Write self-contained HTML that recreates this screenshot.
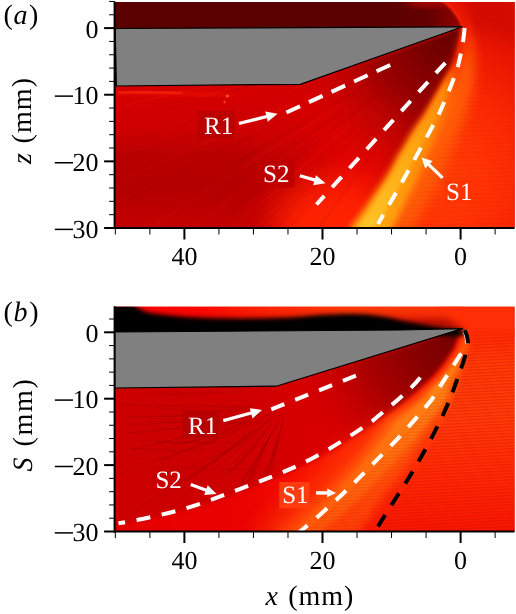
<!DOCTYPE html>
<html><head><meta charset="utf-8">
<style>
html,body{margin:0;padding:0;background:#fff;}
body{width:516px;height:614px;overflow:hidden;}
svg{display:block;will-change:transform;}
text{font-family:"Liberation Serif",serif;font-size:26px;fill:#000;text-rendering:geometricPrecision;}
.w{fill:#fff;}
.i{font-style:italic;}
.L text{font-size:28px;}
.lb{font-size:25px;}
</style></head><body>
<svg width="516" height="614" viewBox="0 0 516 614">
<defs>
<clipPath id="cpA"><rect x="114.6" y="2" width="399.9" height="226"/></clipPath>
<clipPath id="cpB"><rect x="114.6" y="306.8" width="399.9" height="224.7"/></clipPath>
<filter id="b07" color-interpolation-filters="sRGB" filterUnits="userSpaceOnUse" x="100" y="0" width="420" height="614"><feGaussianBlur stdDeviation="0.7"/></filter>
<filter id="b1" color-interpolation-filters="sRGB" x="-20%" y="-20%" width="140%" height="140%"><feGaussianBlur stdDeviation="1"/></filter>
<filter id="b2" color-interpolation-filters="sRGB" x="-20%" y="-20%" width="140%" height="140%"><feGaussianBlur stdDeviation="2"/></filter>
<filter id="b25" color-interpolation-filters="sRGB" x="-20%" y="-40%" width="140%" height="180%"><feGaussianBlur stdDeviation="2.5"/></filter>
<filter id="b3" color-interpolation-filters="sRGB" x="-20%" y="-20%" width="140%" height="140%"><feGaussianBlur stdDeviation="3"/></filter>
<filter id="b4" color-interpolation-filters="sRGB" x="-20%" y="-20%" width="140%" height="140%"><feGaussianBlur stdDeviation="4"/></filter>
<filter id="b6" color-interpolation-filters="sRGB" x="-30%" y="-30%" width="160%" height="160%"><feGaussianBlur stdDeviation="6"/></filter>
<filter id="b10" color-interpolation-filters="sRGB" x="-40%" y="-40%" width="180%" height="180%"><feGaussianBlur stdDeviation="10"/></filter>
<filter id="b16" color-interpolation-filters="sRGB" x="-50%" y="-50%" width="200%" height="200%"><feGaussianBlur stdDeviation="16"/></filter>
</defs>
<rect width="516" height="614" fill="#fff"/>

<!-- ================= PANEL A ================= -->
<g clip-path="url(#cpA)">
<defs>
<linearGradient id="aBase" x1="0" y1="86" x2="0" y2="228" gradientUnits="userSpaceOnUse"><stop offset="0" stop-color="#d60000"/><stop offset="0.3" stop-color="#ce0000"/><stop offset="0.5" stop-color="#b80000"/><stop offset="0.72" stop-color="#b40000"/><stop offset="1" stop-color="#c40000"/></linearGradient>
<linearGradient id="aBaseH" x1="240" y1="0" x2="415" y2="0" gradientUnits="userSpaceOnUse"><stop offset="0" stop-color="#d00000" stop-opacity="0"/><stop offset="0.3" stop-color="#d40000" stop-opacity="0.6"/><stop offset="0.6" stop-color="#e20400" stop-opacity="1"/><stop offset="1" stop-color="#f01000" stop-opacity="1"/></linearGradient>
<radialGradient id="aRight" cx="432" cy="175" r="165" gradientUnits="userSpaceOnUse"><stop offset="0" stop-color="#ff4006"/><stop offset="0.3" stop-color="#ff3404"/><stop offset="0.55" stop-color="#fa2802"/><stop offset="0.8" stop-color="#ec1800"/><stop offset="1" stop-color="#e01000"/></radialGradient>
<radialGradient id="aFan" cx="462" cy="27" r="180" gradientUnits="userSpaceOnUse"><stop offset="0" stop-color="#600000" stop-opacity="1"/><stop offset="0.25" stop-color="#780000" stop-opacity="1"/><stop offset="0.5" stop-color="#940000" stop-opacity="0.95"/><stop offset="0.75" stop-color="#b00000" stop-opacity="0.55"/><stop offset="1" stop-color="#c40000" stop-opacity="0"/></radialGradient>
<linearGradient id="aBand" x1="0" y1="40" x2="0" y2="228" gradientUnits="userSpaceOnUse"><stop offset="0" stop-color="#ff3000" stop-opacity="0"/><stop offset="0.12" stop-color="#ff4000" stop-opacity="0.5"/><stop offset="0.25" stop-color="#ff6404" stop-opacity="1"/><stop offset="0.5" stop-color="#ff8806"/><stop offset="1" stop-color="#ffa410"/></linearGradient>
<linearGradient id="aCore" x1="0" y1="55" x2="0" y2="228" gradientUnits="userSpaceOnUse"><stop offset="0" stop-color="#ff7800" stop-opacity="0"/><stop offset="0.2" stop-color="#ff8c08" stop-opacity="0.9"/><stop offset="0.5" stop-color="#ffa410" stop-opacity="1"/><stop offset="1" stop-color="#ffc428"/></linearGradient>
<linearGradient id="aDark" x1="0" y1="30" x2="0" y2="228" gradientUnits="userSpaceOnUse"><stop offset="0" stop-color="#800000" stop-opacity="0.85"/><stop offset="0.4" stop-color="#980000" stop-opacity="0.6"/><stop offset="0.65" stop-color="#b00000" stop-opacity="0.2"/><stop offset="1" stop-color="#c00000" stop-opacity="0"/></linearGradient>
<linearGradient id="aTopG" x1="380" y1="0" x2="460" y2="0" gradientUnits="userSpaceOnUse"><stop offset="0" stop-color="#5a0000"/><stop offset="0.6" stop-color="#640000"/><stop offset="1" stop-color="#900000"/></linearGradient>
</defs>
<rect x="110" y="-4" width="410" height="244" fill="url(#aBase)"/>
<rect x="110" y="-4" width="410" height="244" fill="url(#aBaseH)"/>
<ellipse cx="335" cy="228" rx="62" ry="50" fill="#ff2400" opacity="0.95" filter="url(#b16)"/>
<path d="M430,-4 C448,2 458,14 462.5,27 C461,54 446,98 439.5,113 C431,130 410,167 370,236 L520,236 L520,-4 Z" fill="url(#aRight)" filter="url(#b2)"/>
<path d="M450,-6 L522,-6 L522,40 L470,30 Z" fill="#cc0a00" opacity="0.75" filter="url(#b10)"/>
<path d="M462.5,27 L300,84.5 L115,86 L115,120 L260,120 L330,236 L350,236 C380,190 410,140 424.8,113.3 C433,100 442,84 449.8,68.5 C456,53 459,40 462.5,27 Z" fill="url(#aFan)" filter="url(#b2)"/>
<path d="M463.2,30.0 L459.3,36.0 L455.4,42.0 L451.0,48.0 L447.6,54.0 L444.4,60.0 L441.3,66.0 L437.3,72.0 L433.4,78.0 L429.7,84.0 L426.8,90.0 L423.4,96.0 L420.0,102.0 L416.8,108.0 L413.4,114.0 L409.4,120.0 L405.3,126.0 L401.6,132.0 L398.2,138.0 L395.1,144.0 L391.5,150.0 L387.9,156.0 L384.9,162.0 L382.0,168.0 L379.1,174.0 L376.1,180.0 L372.7,186.0 L369.3,192.0 L366.0,198.0 L362.7,204.0 L359.6,210.0 L356.1,216.0 L352.5,222.0 L349.2,228.0 L346.0,234.0 L357.0,234.0 L360.3,228.0 L363.7,222.0 L367.4,216.0 L371.0,210.0 L374.2,204.0 L377.5,198.0 L380.9,192.0 L384.4,186.0 L387.9,180.0 L391.0,174.0 L394.0,168.0 L396.9,162.0 L399.9,156.0 L403.5,150.0 L407.1,144.0 L410.2,138.0 L413.6,132.0 L417.3,126.0 L421.3,120.0 L425.1,114.0 L428.3,108.0 L431.4,102.0 L434.7,96.0 L438.0,90.0 L440.7,84.0 L443.7,78.0 L446.9,72.0 L450.2,66.0 L452.6,60.0 L455.1,54.0 L457.4,48.0 L459.8,42.0 L461.8,36.0 L463.8,30.0 Z" fill="url(#aDark)" filter="url(#b4)"/>
<path d="M464.3,30.0 L463.6,36.0 L463.0,42.0 L461.9,48.0 L460.8,54.0 L459.4,60.0 L458.0,66.0 L455.8,72.0 L453.7,78.0 L451.7,84.0 L449.5,90.0 L446.8,96.0 L444.2,102.0 L441.6,108.0 L439.0,114.0 L435.7,120.0 L432.3,126.0 L428.8,132.0 L425.5,138.0 L422.5,144.0 L419.1,150.0 L415.6,156.0 L412.8,162.0 L410.0,168.0 L406.9,174.0 L403.7,180.0 L400.1,186.0 L396.6,192.0 L393.1,198.0 L389.7,204.0 L386.3,210.0 L382.7,216.0 L378.9,222.0 L375.5,228.0 L372.1,234.0 L409.9,234.0 L413.0,228.0 L416.1,222.0 L419.5,216.0 L422.8,210.0 L425.8,204.0 L428.9,198.0 L432.0,192.0 L435.2,186.0 L438.5,180.0 L441.3,174.0 L444.0,168.0 L446.3,162.0 L448.5,156.0 L451.4,150.0 L454.3,144.0 L456.7,138.0 L459.4,132.0 L462.3,126.0 L464.5,120.0 L466.7,114.0 L468.2,108.0 L469.6,102.0 L471.1,96.0 L472.7,90.0 L473.7,84.0 L473.9,78.0 L474.3,72.0 L474.7,66.0 L474.3,60.0 L473.9,54.0 L473.2,48.0 L472.1,42.0 L470.6,36.0 L469.0,30.0 Z" fill="#ff6008" opacity="0.9" filter="url(#b6)"/>
<path d="M464.0,30.0 L462.6,36.0 L461.1,42.0 L459.2,48.0 L456.9,54.0 L454.3,60.0 L451.7,66.0 L448.3,72.0 L444.9,78.0 L441.7,84.0 L438.5,90.0 L434.8,96.0 L431.2,102.0 L427.6,108.0 L424.0,114.0 L419.7,120.0 L415.3,126.0 L411.5,132.0 L407.9,138.0 L404.6,144.0 L400.9,150.0 L397.1,156.0 L394.0,162.0 L390.9,168.0 L387.2,174.0 L383.5,180.0 L379.4,186.0 L375.3,192.0 L371.3,198.0 L367.2,204.0 L363.2,210.0 L358.9,216.0 L354.5,222.0 L350.3,228.0 L346.3,234.0 L388.9,234.0 L391.9,228.0 L394.9,222.0 L398.2,216.0 L401.4,210.0 L404.3,204.0 L407.3,198.0 L410.4,192.0 L413.5,186.0 L416.6,180.0 L419.4,174.0 L422.1,168.0 L424.4,162.0 L426.8,156.0 L429.8,150.0 L432.8,144.0 L435.4,138.0 L438.2,132.0 L441.3,126.0 L444.1,120.0 L446.8,114.0 L448.9,108.0 L450.9,102.0 L453.0,96.0 L455.1,90.0 L456.7,84.0 L458.1,78.0 L459.8,72.0 L461.4,66.0 L462.3,60.0 L463.1,54.0 L463.7,48.0 L464.3,42.0 L464.4,36.0 L464.5,30.0 Z" fill="url(#aBand)" filter="url(#b3)"/>
<path d="M464.1,30.0 L462.9,36.0 L461.7,42.0 L460.0,48.0 L458.3,54.0 L456.4,60.0 L453.5,66.0 L449.8,72.0 L446.2,78.0 L442.7,84.0 L440.0,90.0 L436.7,96.0 L433.4,102.0 L430.3,108.0 L427.1,114.0 L423.3,120.0 L419.3,126.0 L415.5,132.0 L411.9,138.0 L408.6,144.0 L404.9,150.0 L401.1,156.0 L398.0,162.0 L394.9,168.0 L391.6,174.0 L388.1,180.0 L384.3,186.0 L380.5,192.0 L376.7,198.0 L373.1,204.0 L369.5,210.0 L365.6,216.0 L361.5,222.0 L357.8,228.0 L354.2,234.0 L372.1,234.0 L375.5,228.0 L378.9,222.0 L382.7,216.0 L386.3,210.0 L389.7,204.0 L393.1,198.0 L396.6,192.0 L400.1,186.0 L403.7,180.0 L406.9,174.0 L410.0,168.0 L412.8,162.0 L415.6,156.0 L419.1,150.0 L422.5,144.0 L425.5,138.0 L428.8,132.0 L432.3,126.0 L435.5,120.0 L438.7,114.0 L441.2,108.0 L443.6,102.0 L446.1,96.0 L448.7,90.0 L450.7,84.0 L452.4,78.0 L454.3,72.0 L456.2,66.0 L457.4,60.0 L459.1,54.0 L460.7,48.0 L462.1,42.0 L463.1,36.0 L464.2,30.0 Z" fill="url(#aCore)" filter="url(#b2)"/>
<clipPath id="cpAL"><path d="M115,86 L300,84.5 L462.5,27 L316,236 L115,236 Z"/></clipPath>
<g clip-path="url(#cpAL)" fill="none"><g filter="url(#b07)">
<line x1="361.6" y1="61.4" x2="175.0" y2="124.9" stroke="#ff3018" stroke-opacity="0.09" stroke-width="1.2"/>
<line x1="317.1" y1="37.7" x2="230.6" y2="44.0" stroke="#ff3018" stroke-opacity="0.06" stroke-width="0.9"/>
<line x1="297.6" y1="101.6" x2="204.5" y2="143.8" stroke="#ff3018" stroke-opacity="0.10" stroke-width="1.7"/>
<line x1="350.1" y1="99.3" x2="135.0" y2="237.6" stroke="#ff3018" stroke-opacity="0.12" stroke-width="1.1"/>
<line x1="360.8" y1="43.0" x2="226.9" y2="64.0" stroke="#700000" stroke-opacity="0.04" stroke-width="1.4"/>
<line x1="356.7" y1="104.2" x2="212.5" y2="209.6" stroke="#ff3018" stroke-opacity="0.05" stroke-width="1.0"/>
<line x1="355.1" y1="112.2" x2="248.2" y2="197.0" stroke="#700000" stroke-opacity="0.06" stroke-width="1.1"/>
<line x1="343.9" y1="144.4" x2="255.7" y2="231.5" stroke="#700000" stroke-opacity="0.06" stroke-width="1.7"/>
<line x1="370.8" y1="107.0" x2="177.7" y2="275.7" stroke="#ff3018" stroke-opacity="0.08" stroke-width="1.6"/>
<line x1="320.6" y1="50.4" x2="234.7" y2="64.5" stroke="#700000" stroke-opacity="0.08" stroke-width="1.4"/>
<line x1="381.1" y1="121.2" x2="246.9" y2="276.4" stroke="#700000" stroke-opacity="0.06" stroke-width="1.3"/>
<line x1="330.7" y1="169.3" x2="218.4" y2="290.6" stroke="#700000" stroke-opacity="0.03" stroke-width="1.5"/>
<line x1="302.5" y1="145.8" x2="119.5" y2="281.7" stroke="#ff3018" stroke-opacity="0.08" stroke-width="1.5"/>
<line x1="321.8" y1="32.5" x2="211.7" y2="36.8" stroke="#ff3018" stroke-opacity="0.05" stroke-width="1.6"/>
<line x1="346.4" y1="43.5" x2="197.6" y2="64.8" stroke="#700000" stroke-opacity="0.03" stroke-width="1.2"/>
<line x1="302.4" y1="124.0" x2="107.9" y2="241.9" stroke="#700000" stroke-opacity="0.05" stroke-width="1.2"/>
<line x1="287.4" y1="93.3" x2="51.3" y2="182.6" stroke="#ff3018" stroke-opacity="0.06" stroke-width="1.0"/>
<line x1="323.3" y1="61.3" x2="142.7" y2="105.8" stroke="#ff3018" stroke-opacity="0.05" stroke-width="1.2"/>
<line x1="320.6" y1="82.3" x2="86.3" y2="173.8" stroke="#700000" stroke-opacity="0.06" stroke-width="1.4"/>
<line x1="387.1" y1="86.3" x2="197.0" y2="235.9" stroke="#700000" stroke-opacity="0.08" stroke-width="1.6"/>
<line x1="338.9" y1="78.4" x2="247.8" y2="116.3" stroke="#700000" stroke-opacity="0.03" stroke-width="0.9"/>
<line x1="357.2" y1="50.3" x2="219.3" y2="80.8" stroke="#ff3018" stroke-opacity="0.05" stroke-width="1.0"/>
<line x1="333.4" y1="41.9" x2="249.3" y2="51.6" stroke="#700000" stroke-opacity="0.07" stroke-width="0.9"/>
<line x1="338.6" y1="59.9" x2="197.9" y2="97.3" stroke="#ff3018" stroke-opacity="0.12" stroke-width="1.8"/>
<line x1="334.5" y1="91.2" x2="249.1" y2="134.0" stroke="#ff3018" stroke-opacity="0.08" stroke-width="1.1"/>
<line x1="388.4" y1="105.3" x2="330.6" y2="166.4" stroke="#700000" stroke-opacity="0.06" stroke-width="0.9"/>
<line x1="382.7" y1="74.7" x2="232.4" y2="164.5" stroke="#700000" stroke-opacity="0.08" stroke-width="1.5"/>
<line x1="336.8" y1="61.5" x2="230.7" y2="90.7" stroke="#700000" stroke-opacity="0.06" stroke-width="1.6"/>
<line x1="354.3" y1="64.5" x2="140.7" y2="138.6" stroke="#700000" stroke-opacity="0.08" stroke-width="1.6"/>
<line x1="343.5" y1="150.3" x2="259.6" y2="237.2" stroke="#700000" stroke-opacity="0.05" stroke-width="0.8"/>
<line x1="341.9" y1="32.3" x2="215.4" y2="37.9" stroke="#700000" stroke-opacity="0.09" stroke-width="1.2"/>
<line x1="341.6" y1="184.7" x2="188.4" y2="384.6" stroke="#ff3018" stroke-opacity="0.07" stroke-width="1.0"/>
<line x1="352.4" y1="50.0" x2="164.1" y2="89.4" stroke="#700000" stroke-opacity="0.08" stroke-width="1.3"/>
<line x1="320.2" y1="133.9" x2="244.0" y2="191.1" stroke="#700000" stroke-opacity="0.08" stroke-width="1.6"/>
<line x1="357.0" y1="122.9" x2="274.0" y2="198.3" stroke="#700000" stroke-opacity="0.05" stroke-width="1.6"/>
<line x1="384.8" y1="135.6" x2="296.3" y2="259.5" stroke="#700000" stroke-opacity="0.07" stroke-width="1.0"/>
<line x1="356.9" y1="41.8" x2="116.4" y2="75.6" stroke="#700000" stroke-opacity="0.04" stroke-width="1.6"/>
<line x1="369.2" y1="159.8" x2="287.0" y2="276.9" stroke="#700000" stroke-opacity="0.04" stroke-width="0.8"/>
<line x1="368.5" y1="158.3" x2="266.8" y2="300.4" stroke="#700000" stroke-opacity="0.06" stroke-width="1.7"/>
<line x1="384.5" y1="109.0" x2="298.1" y2="199.9" stroke="#ff3018" stroke-opacity="0.07" stroke-width="1.4"/>
<line x1="331.2" y1="62.8" x2="231.3" y2="90.1" stroke="#700000" stroke-opacity="0.05" stroke-width="1.3"/>
<line x1="303.7" y1="130.4" x2="173.3" y2="215.4" stroke="#700000" stroke-opacity="0.06" stroke-width="1.3"/>
<line x1="382.6" y1="72.7" x2="244.4" y2="151.9" stroke="#ff3018" stroke-opacity="0.05" stroke-width="1.6"/>
<line x1="322.8" y1="52.8" x2="115.8" y2="91.1" stroke="#700000" stroke-opacity="0.05" stroke-width="1.3"/>
<line x1="312.3" y1="119.2" x2="227.8" y2="171.1" stroke="#700000" stroke-opacity="0.04" stroke-width="1.1"/>
<line x1="356.7" y1="127.3" x2="225.2" y2="252.0" stroke="#700000" stroke-opacity="0.08" stroke-width="1.2"/>
<line x1="342.8" y1="109.9" x2="201.2" y2="207.9" stroke="#700000" stroke-opacity="0.06" stroke-width="1.3"/>
<line x1="290.5" y1="115.8" x2="107.5" y2="210.1" stroke="#700000" stroke-opacity="0.09" stroke-width="1.1"/>
<line x1="297.8" y1="129.0" x2="101.2" y2="250.8" stroke="#ff3018" stroke-opacity="0.06" stroke-width="1.2"/>
<line x1="346.5" y1="37.1" x2="253.7" y2="45.2" stroke="#700000" stroke-opacity="0.08" stroke-width="1.7"/>
<line x1="296.0" y1="54.8" x2="99.9" y2="87.6" stroke="#ff3018" stroke-opacity="0.12" stroke-width="1.8"/>
<line x1="272.8" y1="71.1" x2="125.0" y2="105.4" stroke="#ff3018" stroke-opacity="0.13" stroke-width="1.6"/>
<line x1="327.1" y1="50.6" x2="156.8" y2="80.2" stroke="#ff3018" stroke-opacity="0.07" stroke-width="1.1"/>
<line x1="392.7" y1="87.1" x2="256.4" y2="204.4" stroke="#ff3018" stroke-opacity="0.05" stroke-width="1.1"/>
<line x1="343.1" y1="111.6" x2="268.4" y2="164.5" stroke="#700000" stroke-opacity="0.08" stroke-width="1.8"/>
<line x1="344.1" y1="41.0" x2="257.6" y2="51.3" stroke="#700000" stroke-opacity="0.05" stroke-width="0.9"/>
<line x1="289.0" y1="105.1" x2="81.6" y2="198.4" stroke="#ff3018" stroke-opacity="0.06" stroke-width="1.7"/>
<line x1="321.4" y1="116.5" x2="240.3" y2="167.9" stroke="#ff3018" stroke-opacity="0.11" stroke-width="1.2"/>
<line x1="270.0" y1="43.8" x2="76.5" y2="60.6" stroke="#700000" stroke-opacity="0.04" stroke-width="1.7"/>
<line x1="278.2" y1="42.0" x2="117.1" y2="55.2" stroke="#ff3018" stroke-opacity="0.09" stroke-width="1.7"/>
<line x1="362.2" y1="55.3" x2="193.9" y2="102.7" stroke="#ff3018" stroke-opacity="0.06" stroke-width="1.0"/>
<line x1="350.5" y1="34.4" x2="214.7" y2="43.3" stroke="#ff3018" stroke-opacity="0.11" stroke-width="1.1"/>
<line x1="366.2" y1="79.3" x2="241.0" y2="147.3" stroke="#ff3018" stroke-opacity="0.07" stroke-width="0.8"/>
<line x1="349.4" y1="126.4" x2="263.7" y2="201.8" stroke="#ff3018" stroke-opacity="0.12" stroke-width="0.9"/>
<line x1="367.0" y1="126.0" x2="249.6" y2="247.7" stroke="#700000" stroke-opacity="0.05" stroke-width="1.3"/>
<line x1="308.2" y1="151.2" x2="197.8" y2="240.0" stroke="#700000" stroke-opacity="0.07" stroke-width="1.4"/>
<line x1="344.7" y1="77.6" x2="262.2" y2="113.1" stroke="#ff3018" stroke-opacity="0.06" stroke-width="1.5"/>
<line x1="358.2" y1="55.0" x2="266.3" y2="79.8" stroke="#700000" stroke-opacity="0.08" stroke-width="1.5"/>
<line x1="350.7" y1="60.1" x2="223.4" y2="97.9" stroke="#ff3018" stroke-opacity="0.06" stroke-width="1.2"/>
<line x1="273.8" y1="79.3" x2="28.0" y2="147.3" stroke="#700000" stroke-opacity="0.04" stroke-width="1.8"/>
</g></g>
<path d="M117,93 C140,91.5 170,93 232,95.5" fill="none" stroke="#f01800" stroke-width="5" opacity="0.5" filter="url(#b2)"/>
<path d="M118,92.5 C140,91 160,92.5 182,93.5" fill="none" stroke="#ff3810" stroke-width="2" opacity="0.8" filter="url(#b1)"/>
<circle cx="227.5" cy="96" r="1.6" fill="#ff5020" filter="url(#b07)"/><circle cx="224.5" cy="102" r="1.2" fill="#ff4018" filter="url(#b07)"/>
<pattern id="stA" width="20" height="4.2" patternUnits="userSpaceOnUse" patternTransform="rotate(-2)"><rect width="20" height="1.6" fill="#d81000" opacity="0.1"/></pattern>
<path d="M482,60 C477,84 462,108 455.5,123 C447,140 426,177 392,236 L520,236 L520,60 Z" fill="url(#stA)"/>
<path d="M442,-4 C454,3 464,13 468,27 C468,36 466,46 463,55" fill="none" stroke="#ff2604" stroke-width="9" opacity="0.55" filter="url(#b4)"/>
<path d="M110,-4 L436,-4 C448,3 458,14 462.5,27 L110,29 Z" fill="url(#aTopG)"/>
<ellipse cx="428" cy="-2" rx="22" ry="8" fill="#c80800" opacity="0.8" filter="url(#b4)"/>
<path d="M438,-2 C449,4 458,14 462.5,27 C462,36 460,46 457,55" fill="none" stroke="#ff2808" stroke-width="2.2" filter="url(#b1)"/>

</g>
<!-- wedge A -->
<polygon points="114.6,28.5 462.5,26.8 300.3,84.3 114.6,86" fill="#808080" stroke="#000" stroke-width="1.2" stroke-linejoin="miter"/>
<polygon points="114.6,28.5 115.8,28.5 117.0,86 114.6,86" fill="#000"/>
<!-- dashed lines A -->
<g fill="none" stroke="#fff" stroke-width="4" stroke-dasharray="15 9.8">
<path d="M286.4,112.5 L391,64.6"/>
</g>
<g fill="none" stroke="#fff" stroke-width="4" stroke-dasharray="14 11.7">
<path d="M445.3,62.8 L316.5,204.5"/>
<path d="M464.6,28 C463.5,42 461,54 458,66 C453,82 446,98 439.5,113 C431,130 421,147 410.5,167 C400,186 390,203 378,224"/>
</g>
<!-- axes A -->
<line x1="114.6" y1="1.5" x2="114.6" y2="229" stroke="#000" stroke-width="2"/>
<line x1="113.6" y1="228" x2="514.5" y2="228" stroke="#000" stroke-width="2.2"/>
<line x1="104.1" y1="227.99" x2="114.6" y2="227.99" stroke="#000" stroke-width="2"/>
<line x1="109.1" y1="214.66" x2="114.6" y2="214.66" stroke="#000" stroke-width="1"/>
<line x1="109.1" y1="201.34" x2="114.6" y2="201.34" stroke="#000" stroke-width="1"/>
<line x1="109.1" y1="188.01" x2="114.6" y2="188.01" stroke="#000" stroke-width="1"/>
<line x1="109.1" y1="174.69" x2="114.6" y2="174.69" stroke="#000" stroke-width="1"/>
<line x1="104.1" y1="161.36" x2="114.6" y2="161.36" stroke="#000" stroke-width="2"/>
<line x1="109.1" y1="148.03" x2="114.6" y2="148.03" stroke="#000" stroke-width="1"/>
<line x1="109.1" y1="134.71" x2="114.6" y2="134.71" stroke="#000" stroke-width="1"/>
<line x1="109.1" y1="121.38" x2="114.6" y2="121.38" stroke="#000" stroke-width="1"/>
<line x1="109.1" y1="108.06" x2="114.6" y2="108.06" stroke="#000" stroke-width="1"/>
<line x1="104.1" y1="94.73" x2="114.6" y2="94.73" stroke="#000" stroke-width="2"/>
<line x1="109.1" y1="81.40" x2="114.6" y2="81.40" stroke="#000" stroke-width="1"/>
<line x1="109.1" y1="68.08" x2="114.6" y2="68.08" stroke="#000" stroke-width="1"/>
<line x1="109.1" y1="54.75" x2="114.6" y2="54.75" stroke="#000" stroke-width="1"/>
<line x1="109.1" y1="41.43" x2="114.6" y2="41.43" stroke="#000" stroke-width="1"/>
<line x1="104.1" y1="28.10" x2="114.6" y2="28.10" stroke="#000" stroke-width="2"/>
<line x1="109.1" y1="14.77" x2="114.6" y2="14.77" stroke="#000" stroke-width="1"/>
<line x1="109.1" y1="1.45" x2="114.6" y2="1.45" stroke="#000" stroke-width="1"/>
<line x1="115.35" y1="228" x2="115.35" y2="234.5" stroke="#000" stroke-width="1"/>
<line x1="149.88" y1="228" x2="149.88" y2="234.5" stroke="#000" stroke-width="1"/>
<line x1="184.40" y1="228" x2="184.40" y2="239.5" stroke="#000" stroke-width="2"/>
<line x1="218.93" y1="228" x2="218.93" y2="234.5" stroke="#000" stroke-width="1"/>
<line x1="253.45" y1="228" x2="253.45" y2="234.5" stroke="#000" stroke-width="1"/>
<line x1="287.98" y1="228" x2="287.98" y2="234.5" stroke="#000" stroke-width="1"/>
<line x1="322.50" y1="228" x2="322.50" y2="239.5" stroke="#000" stroke-width="2"/>
<line x1="357.03" y1="228" x2="357.03" y2="234.5" stroke="#000" stroke-width="1"/>
<line x1="391.55" y1="228" x2="391.55" y2="234.5" stroke="#000" stroke-width="1"/>
<line x1="426.08" y1="228" x2="426.08" y2="234.5" stroke="#000" stroke-width="1"/>
<line x1="460.60" y1="228" x2="460.60" y2="239.5" stroke="#000" stroke-width="2"/>
<line x1="495.12" y1="228" x2="495.12" y2="234.5" stroke="#000" stroke-width="1"/>
<text x="98.6" y="37.70" text-anchor="end">0</text>
<text x="98.6" y="104.33" text-anchor="end">10</text>
<line x1="54.8" y1="96.13" x2="73" y2="96.13" stroke="#000" stroke-width="1.5"/>
<text x="98.6" y="170.96" text-anchor="end">20</text>
<line x1="54.8" y1="162.76" x2="73" y2="162.76" stroke="#000" stroke-width="1.5"/>
<text x="98.6" y="237.59" text-anchor="end">30</text>
<line x1="54.8" y1="229.39" x2="73" y2="229.39" stroke="#000" stroke-width="1.5"/>
<text x="184.40" y="265.4" text-anchor="middle">40</text>
<text x="322.50" y="265.4" text-anchor="middle">20</text>
<text x="460.60" y="265.4" text-anchor="middle">0</text>
<g class="L"><text x="3.4" y="24">(</text><text class="i" x="13.6" y="24">a</text><text x="29" y="24">)</text>
<text class="i" transform="translate(31.3,164) rotate(-90)">z</text>
<text transform="translate(31,143.5) rotate(-90)" style="letter-spacing:1.1px">(mm)</text></g>
<!-- labels A -->
<rect x="197.3" y="111" width="37.7" height="27.6" fill="#b80000" opacity="0.8"/>
<text class="w lb" x="204.1" y="133.6">R1</text>
<rect x="258.3" y="159.5" width="36.4" height="27.9" fill="#bc0000" opacity="0.8"/>
<text class="w lb" x="263.1" y="182">S2</text>
<rect x="444.6" y="179.7" width="34" height="23.3" fill="#ff3000" opacity="0.5"/>
<text class="w lb" x="446.1" y="199.5">S1</text>
<!-- arrows A -->
<g stroke="#fff" stroke-width="3.2" fill="none">
<line x1="238.8" y1="123.5" x2="268" y2="116.3"/>
<line x1="299.9" y1="175.8" x2="316" y2="180.4"/>
<line x1="442.6" y1="177.8" x2="428" y2="163.8"/>
</g>
<g fill="#fff">
<polygon points="277.5,113.8 265.3,111.6 267.8,121.7"/>
<polygon points="325.5,183.2 313.2,185.2 316,175.3"/>
<polygon points="421.5,157.6 432.6,160.9 425.2,168.6"/>
</g>

<!-- ================= PANEL B ================= -->
<g clip-path="url(#cpB)">
<defs>
<linearGradient id="bBase" x1="115" y1="0" x2="430" y2="0" gradientUnits="userSpaceOnUse"><stop offset="0" stop-color="#cc0000"/><stop offset="0.4" stop-color="#ce0000"/><stop offset="0.7" stop-color="#dc0000"/><stop offset="1" stop-color="#e00000"/></linearGradient>
<linearGradient id="bMid" x1="115" y1="0" x2="440" y2="0" gradientUnits="userSpaceOnUse"><stop offset="0" stop-color="#e40000"/><stop offset="0.4" stop-color="#ea0200"/><stop offset="0.57" stop-color="#f61000"/><stop offset="0.72" stop-color="#fc1c02"/><stop offset="1" stop-color="#ff2404"/></linearGradient>
<linearGradient id="bRight" x1="0" y1="307" x2="0" y2="531" gradientUnits="userSpaceOnUse"><stop offset="0" stop-color="#ff1c00"/><stop offset="0.1" stop-color="#ff2802"/><stop offset="0.25" stop-color="#ff3c06"/><stop offset="0.5" stop-color="#ff3c08"/><stop offset="0.75" stop-color="#ff2a04"/><stop offset="1" stop-color="#f81600"/></linearGradient>
<radialGradient id="bFan" cx="462" cy="329" r="200" gradientUnits="userSpaceOnUse"><stop offset="0" stop-color="#700000" stop-opacity="1"/><stop offset="0.3" stop-color="#8c0000" stop-opacity="1"/><stop offset="0.5" stop-color="#a00000" stop-opacity="0.9"/><stop offset="0.7" stop-color="#b80000" stop-opacity="0.5"/><stop offset="0.9" stop-color="#cc0000" stop-opacity="0"/></radialGradient>
<linearGradient id="bWide" x1="0" y1="335" x2="0" y2="535" gradientUnits="userSpaceOnUse"><stop offset="0" stop-color="#ff6008" stop-opacity="0.95"/><stop offset="0.3" stop-color="#ff6c0e" stop-opacity="1"/><stop offset="0.6" stop-color="#ff5a0a" stop-opacity="0.9"/><stop offset="1" stop-color="#ff4808" stop-opacity="0.8"/></linearGradient>
<linearGradient id="bCore" x1="0" y1="335" x2="0" y2="535" gradientUnits="userSpaceOnUse"><stop offset="0" stop-color="#ff6808" stop-opacity="0.9"/><stop offset="0.25" stop-color="#ff8416" stop-opacity="1"/><stop offset="0.55" stop-color="#ff7410" stop-opacity="0.95"/><stop offset="1" stop-color="#ff5a0a" stop-opacity="0.8"/></linearGradient>
<linearGradient id="bTop" x1="115" y1="0" x2="464" y2="0" gradientUnits="userSpaceOnUse"><stop offset="0" stop-color="#f80000"/><stop offset="0.25" stop-color="#ff0800"/><stop offset="0.42" stop-color="#ff2402"/><stop offset="0.67" stop-color="#ff3a06"/><stop offset="1" stop-color="#ff3606"/></linearGradient>
<linearGradient id="bTopV" x1="0" y1="307" x2="0" y2="322" gradientUnits="userSpaceOnUse"><stop offset="0" stop-color="#c00000" stop-opacity="0"/><stop offset="0.5" stop-color="#c80000" stop-opacity="0.25"/><stop offset="1" stop-color="#a00000" stop-opacity="0.7"/></linearGradient>
</defs>
<rect x="110" y="300" width="410" height="245" fill="url(#bBase)"/>
<path d="M462.6,328.6 L276,386.2 L115,388 L115,470 L300,470 L350,440 L400,407 L435,375 L455,348 Z" fill="url(#bFan)" filter="url(#b2)"/>
<path d="M464.6,328.0 L462.0,332.0 L459.7,336.0 L458.3,340.0 L456.9,344.0 L455.6,348.0 L453.6,352.0 L451.1,356.0 L448.6,360.0 L445.8,364.0 L442.4,368.0 L439.0,372.0 L435.4,376.0 L431.3,380.0 L427.3,384.0 L422.8,388.0 L418.2,392.0 L413.6,396.0 L408.6,400.0 L403.6,404.0 L398.6,408.0 L393.1,412.0 L387.4,416.0 L381.7,420.0 L375.7,424.0 L369.6,428.0 L363.5,432.0 L357.4,436.0 L351.2,440.0 L345.1,444.0 L338.3,448.0 L330.8,452.0 L323.3,456.0 L315.9,460.0 L307.8,464.0 L299.5,468.0 L295.3,470.0 L291.2,472.0 L287.0,474.0 L282.0,476.0 L277.0,478.0 L272.0,480.0 L267.0,482.0 L262.0,484.0 L257.0,486.0 L252.0,488.0 L246.7,490.0 L241.3,492.0 L236.0,494.0 L230.7,496.0 L225.3,498.0 L220.0,500.0 L214.7,502.0 L208.4,504.0 L201.1,506.0 L193.8,508.0 L186.5,510.0 L179.3,512.0 L172.0,514.0 L162.0,516.0 L152.0,518.0 L142.0,520.0 L132.0,522.0 L122.0,524.0 L117.0,526.0 L117.0,528.0 L117.0,530.0 L117.0,532.0 L117.0,534.0 L117.0,536.0 L117.0,538.0 L117.0,540.0 L292.0,540.0 L294.4,538.0 L296.7,536.0 L299.1,534.0 L301.5,532.0 L303.9,530.0 L306.3,528.0 L308.7,526.0 L311.1,524.0 L313.6,522.0 L316.2,520.0 L318.7,518.0 L321.3,516.0 L323.3,514.0 L325.3,512.0 L327.4,510.0 L329.4,508.0 L331.5,506.0 L334.1,504.0 L336.8,502.0 L339.3,500.0 L341.3,498.0 L343.3,496.0 L345.4,494.0 L347.4,492.0 L349.4,490.0 L351.4,488.0 L353.3,486.0 L355.3,484.0 L357.3,482.0 L359.3,480.0 L361.3,478.0 L363.4,476.0 L365.4,474.0 L367.4,472.0 L369.4,470.0 L371.3,468.0 L375.2,464.0 L379.0,460.0 L382.7,456.0 L386.6,452.0 L390.5,448.0 L394.4,444.0 L398.3,440.0 L402.2,436.0 L405.6,432.0 L409.0,428.0 L412.4,424.0 L415.7,420.0 L419.4,416.0 L423.4,412.0 L427.1,408.0 L430.3,404.0 L433.5,400.0 L435.7,396.0 L437.9,392.0 L440.1,388.0 L442.8,384.0 L445.5,380.0 L448.4,376.0 L451.7,372.0 L454.9,368.0 L457.2,364.0 L459.3,360.0 L461.5,356.0 L463.8,352.0 L465.7,348.0 L467.0,344.0 L467.2,340.0 L467.5,336.0 L466.2,332.0 L465.0,328.0 Z" fill="url(#bMid)" filter="url(#b2)"/>
<path d="M463.6,330.0 L465.2,335.0 L465.2,340.0 L464.7,345.0 L463.0,350.0 L460.1,355.0 L457.3,360.0 L454.6,365.0 L451.3,370.0 L447.2,375.0 L443.5,380.0 L440.1,385.0 L437.0,390.0 L434.2,395.0 L431.5,400.0 L427.5,405.0 L423.4,410.0 L418.4,415.0 L413.7,420.0 L409.5,425.0 L405.3,430.0 L401.0,435.0 L396.3,440.0 L391.5,445.0 L386.5,450.0 L381.6,455.0 L377.0,460.0 L372.3,465.0 L367.4,470.0 L362.4,475.0 L357.3,480.0 L352.3,485.0 L347.4,490.0 L342.4,495.0 L337.3,500.0 L330.8,505.0 L325.4,510.0 L320.3,515.0 L314.2,520.0 L307.9,525.0 L301.9,530.0 L295.9,535.0 L290.0,540.0 L544.1,540.0 L549.5,535.0 L554.9,530.0 L560.5,525.0 L566.2,520.0 L571.9,515.0 L576.4,510.0 L581.3,505.0 L587.4,500.0 L591.9,495.0 L596.4,490.0 L600.9,485.0 L605.4,480.0 L609.9,475.0 L614.4,470.0 L618.8,465.0 L623.0,460.0 L627.2,455.0 L631.6,450.0 L636.0,445.0 L640.4,440.0 L644.6,435.0 L648.3,430.0 L652.0,425.0 L655.8,420.0 L659.9,415.0 L664.4,410.0 L668.0,405.0 L671.5,400.0 L673.8,395.0 L676.0,390.0 L678.6,385.0 L681.6,380.0 L684.7,375.0 L688.3,370.0 L691.2,365.0 L693.4,360.0 L695.6,355.0 L698.0,350.0 L699.2,345.0 L699.3,340.0 L698.7,335.0 L696.7,330.0 Z" fill="url(#bRight)" filter="url(#b2)"/>
<path d="M419.5,400.0 L411.0,405.0 L402.4,410.0 L392.9,415.0 L383.7,420.0 L376.0,425.0 L368.3,430.0 L360.5,435.0 L352.3,440.0 L347.2,445.0 L342.0,450.0 L336.9,455.0 L332.0,460.0 L327.1,465.0 L321.9,470.0 L316.6,475.0 L311.3,480.0 L306.5,485.0 L301.7,490.0 L296.9,495.0 L292.0,500.0 L285.6,505.0 L280.4,510.0 L275.5,515.0 L269.5,520.0 L263.4,525.0 L257.5,530.0 L251.7,535.0 L246.0,540.0 L290.0,540.0 L295.9,535.0 L301.9,530.0 L307.9,525.0 L314.2,520.0 L320.3,515.0 L325.4,510.0 L330.8,505.0 L337.3,500.0 L342.4,495.0 L347.4,490.0 L352.3,485.0 L357.3,480.0 L362.4,475.0 L367.4,470.0 L372.3,465.0 L377.0,460.0 L381.6,455.0 L386.5,450.0 L391.5,445.0 L396.3,440.0 L401.0,435.0 L405.3,430.0 L409.5,425.0 L413.7,420.0 L418.4,415.0 L423.4,410.0 L427.5,405.0 L431.5,400.0 Z" fill="#ff4a08" opacity="0.5" filter="url(#b10)"/>
<path d="M463.3,330.0 L464.1,335.0 L463.4,340.0 L462.0,345.0 L459.6,350.0 L455.8,355.0 L452.3,360.0 L449.4,365.0 L445.8,370.0 L441.4,375.0 L437.5,380.0 L431.8,385.0 L426.5,390.0 L421.5,395.0 L416.5,400.0 L409.5,405.0 L402.4,410.0 L394.4,415.0 L386.7,420.0 L383.0,425.0 L379.3,430.0 L375.5,435.0 L371.3,440.0 L367.2,445.0 L363.0,450.0 L358.9,455.0 L355.0,460.0 L350.3,465.0 L345.4,470.0 L340.4,475.0 L335.3,480.0 L330.3,485.0 L325.4,490.0 L320.4,495.0 L315.3,500.0 L308.8,505.0 L303.4,510.0 L298.3,515.0 L292.2,520.0 L285.9,525.0 L279.9,530.0 L273.9,535.0 L268.0,540.0 L355.0,540.0 L358.2,535.0 L361.4,530.0 L364.6,525.0 L368.1,520.0 L371.6,515.0 L374.6,510.0 L377.7,505.0 L381.0,500.0 L384.4,495.0 L388.1,490.0 L392.0,485.0 L395.8,480.0 L399.8,475.0 L403.3,470.0 L406.5,465.0 L409.6,460.0 L412.9,455.0 L416.1,450.0 L419.1,445.0 L422.1,440.0 L425.4,435.0 L428.6,430.0 L431.9,425.0 L435.3,420.0 L438.7,415.0 L442.2,410.0 L445.7,405.0 L448.6,400.0 L450.5,395.0 L452.5,390.0 L454.4,385.0 L456.2,380.0 L457.6,375.0 L459.0,370.0 L460.5,365.0 L462.1,360.0 L464.1,355.0 L465.9,350.0 L467.3,345.0 L467.2,340.0 L466.3,335.0 L463.9,330.0 Z" fill="url(#bWide)" filter="url(#b4)"/>
<path d="M463.5,330.0 L464.8,335.0 L464.5,340.0 L463.6,345.0 L461.6,350.0 L458.4,355.0 L455.3,360.0 L452.4,365.0 L448.8,370.0 L444.4,375.0 L440.5,380.0 L435.8,385.0 L431.5,390.0 L427.5,395.0 L423.5,400.0 L417.5,405.0 L411.4,410.0 L404.4,415.0 L397.7,420.0 L394.0,425.0 L390.3,430.0 L386.5,435.0 L382.3,440.0 L377.8,445.0 L373.3,450.0 L368.8,455.0 L364.5,460.0 L360.2,465.0 L355.6,470.0 L351.0,475.0 L346.3,480.0 L341.6,485.0 L336.9,490.0 L332.1,495.0 L327.3,500.0 L321.0,505.0 L315.9,510.0 L311.1,515.0 L305.2,520.0 L299.2,525.0 L293.4,530.0 L287.7,535.0 L282.0,540.0 L312.0,540.0 L317.7,535.0 L323.5,530.0 L329.4,525.0 L335.5,520.0 L341.5,515.0 L346.4,510.0 L351.6,505.0 L358.0,500.0 L362.9,495.0 L367.7,490.0 L372.5,485.0 L377.3,480.0 L382.1,475.0 L386.9,470.0 L391.6,465.0 L396.0,460.0 L400.4,455.0 L405.0,450.0 L409.7,445.0 L414.3,440.0 L418.4,435.0 L422.0,430.0 L425.6,425.0 L429.2,420.0 L433.3,415.0 L437.7,410.0 L441.1,405.0 L444.5,400.0 L446.0,395.0 L447.5,390.0 L449.3,385.0 L451.5,380.0 L453.9,375.0 L456.8,370.0 L458.9,365.0 L460.3,360.0 L462.6,355.0 L465.1,350.0 L466.3,345.0 L466.4,340.0 L465.8,335.0 L463.8,330.0 Z" fill="url(#bCore)" filter="url(#b2)"/>
<clipPath id="cpBL"><path d="M115,388 L276,386.2 L380,354 L420,377 L373,420 L297,466 L206,502 L115,524 Z"/></clipPath>
<g clip-path="url(#cpBL)" fill="none"><g filter="url(#b07)">
<path d="M261.1,425.6 Q203.1,473.5 145.9,509.3" stroke="#600000" stroke-opacity="0.15" stroke-width="0.9"/>
<path d="M260.9,429.6 Q207.2,476.4 163.3,514.4" stroke="#600000" stroke-opacity="0.09" stroke-width="1.4"/>
<path d="M280.4,417.3 Q244.9,486.2 198.1,540.5" stroke="#600000" stroke-opacity="0.15" stroke-width="0.9"/>
<path d="M255.9,405.6 Q224.2,409.2 200.0,404.9" stroke="#600000" stroke-opacity="0.08" stroke-width="1.2"/>
<path d="M251.9,431.2 Q211.9,466.5 168.5,489.7" stroke="#600000" stroke-opacity="0.16" stroke-width="1.2"/>
<path d="M241.5,424.2 Q176.0,459.1 102.2,478.7" stroke="#600000" stroke-opacity="0.12" stroke-width="1.0"/>
<path d="M274.4,411.6 Q214.6,444.3 157.3,459.6" stroke="#600000" stroke-opacity="0.13" stroke-width="1.6"/>
<path d="M283.7,417.2 Q276.0,456.2 258.5,483.6" stroke="#600000" stroke-opacity="0.20" stroke-width="1.1"/>
<path d="M252.2,408.6 Q185.7,415.9 124.7,417.8" stroke="#600000" stroke-opacity="0.12" stroke-width="1.6"/>
<path d="M280.2,420.5 Q257.7,455.8 244.8,486.2" stroke="#600000" stroke-opacity="0.18" stroke-width="0.9"/>
<path d="M267.5,426.5 Q245.8,454.0 218.6,475.3" stroke="#600000" stroke-opacity="0.16" stroke-width="0.9"/>
<path d="M271.2,417.0 Q244.7,446.6 206.9,459.4" stroke="#600000" stroke-opacity="0.12" stroke-width="1.5"/>
<path d="M262.0,413.3 Q198.5,434.4 131.6,450.0" stroke="#600000" stroke-opacity="0.20" stroke-width="1.0"/>
<path d="M249.1,419.9 Q207.6,436.5 171.0,447.9" stroke="#600000" stroke-opacity="0.09" stroke-width="1.3"/>
<path d="M254.9,417.0 Q213.0,440.4 172.2,444.5" stroke="#600000" stroke-opacity="0.14" stroke-width="1.3"/>
<path d="M281.8,423.9 Q275.9,463.3 260.2,485.7" stroke="#600000" stroke-opacity="0.11" stroke-width="1.0"/>
<path d="M264.2,447.4 Q252.3,486.6 229.5,507.8" stroke="#600000" stroke-opacity="0.15" stroke-width="1.1"/>
<path d="M274.6,407.6 Q198.9,423.8 129.4,424.7" stroke="#600000" stroke-opacity="0.11" stroke-width="1.5"/>
<path d="M272.5,423.2 Q252.6,450.9 227.4,473.5" stroke="#600000" stroke-opacity="0.11" stroke-width="1.2"/>
<path d="M275.7,439.1 Q267.1,479.3 248.5,512.3" stroke="#600000" stroke-opacity="0.08" stroke-width="1.0"/>
<path d="M276.4,414.3 Q247.2,440.5 221.3,453.5" stroke="#600000" stroke-opacity="0.10" stroke-width="1.1"/>
<path d="M273.5,453.1 Q258.7,515.0 239.3,563.6" stroke="#600000" stroke-opacity="0.10" stroke-width="0.8"/>
<path d="M241.4,405.6 Q186.9,407.2 121.3,404.6" stroke="#600000" stroke-opacity="0.16" stroke-width="1.2"/>
<path d="M275.7,426.8 Q232.4,497.6 199.3,555.8" stroke="#600000" stroke-opacity="0.17" stroke-width="1.5"/>
<path d="M268.6,439.5 Q241.1,500.3 203.8,551.4" stroke="#600000" stroke-opacity="0.16" stroke-width="1.5"/>
<path d="M279.0,432.4 Q262.5,500.0 237.4,554.5" stroke="#600000" stroke-opacity="0.15" stroke-width="1.1"/>
<path d="M264.0,431.7 Q245.9,462.8 224.4,474.1" stroke="#600000" stroke-opacity="0.19" stroke-width="1.4"/>
<path d="M253.6,426.3 Q206.4,462.6 160.6,481.4" stroke="#600000" stroke-opacity="0.09" stroke-width="1.4"/>
<path d="M253.2,406.3 Q200.9,414.3 155.1,407.2" stroke="#600000" stroke-opacity="0.14" stroke-width="1.3"/>
<path d="M282.5,427.0 Q273.6,459.2 269.5,476.5" stroke="#600000" stroke-opacity="0.10" stroke-width="0.9"/>
<path d="M277.8,441.7 Q269.6,491.6 252.0,532.2" stroke="#600000" stroke-opacity="0.16" stroke-width="1.0"/>
<path d="M252.7,430.0 Q198.8,474.8 135.8,509.4" stroke="#600000" stroke-opacity="0.15" stroke-width="1.1"/>
<path d="M257.6,411.1 Q195.8,429.7 125.7,433.0" stroke="#600000" stroke-opacity="0.19" stroke-width="1.0"/>
<path d="M259.5,412.2 Q218.2,425.7 183.8,428.5" stroke="#600000" stroke-opacity="0.16" stroke-width="1.2"/>
<line x1="161.3" y1="416.6" x2="289.7" y2="415.3" stroke="#500000" stroke-opacity="0.11" stroke-width="1"/>
<line x1="163.1" y1="394.5" x2="206.9" y2="394.7" stroke="#500000" stroke-opacity="0.13" stroke-width="1"/>
<line x1="158.7" y1="416.1" x2="200.5" y2="416.0" stroke="#500000" stroke-opacity="0.07" stroke-width="1"/>
<line x1="160.8" y1="393.9" x2="222.2" y2="392.6" stroke="#500000" stroke-opacity="0.07" stroke-width="1"/>
<line x1="140.1" y1="441.1" x2="236.8" y2="442.0" stroke="#500000" stroke-opacity="0.13" stroke-width="1"/>
<line x1="153.0" y1="466.8" x2="210.9" y2="465.8" stroke="#500000" stroke-opacity="0.11" stroke-width="1"/>
<line x1="141.5" y1="392.8" x2="245.8" y2="392.2" stroke="#500000" stroke-opacity="0.08" stroke-width="1"/>
<line x1="153.7" y1="419.0" x2="240.5" y2="419.7" stroke="#500000" stroke-opacity="0.12" stroke-width="1"/>
<line x1="158.8" y1="422.7" x2="280.3" y2="424.0" stroke="#500000" stroke-opacity="0.07" stroke-width="1"/>
<line x1="123.0" y1="448.3" x2="203.8" y2="449.6" stroke="#500000" stroke-opacity="0.12" stroke-width="1"/>
<line x1="146.7" y1="421.4" x2="265.9" y2="422.7" stroke="#500000" stroke-opacity="0.14" stroke-width="1"/>
<line x1="151.2" y1="428.2" x2="209.6" y2="429.1" stroke="#500000" stroke-opacity="0.13" stroke-width="1"/>
<line x1="154.8" y1="442.0" x2="214.0" y2="443.5" stroke="#500000" stroke-opacity="0.15" stroke-width="1"/>
<line x1="145.0" y1="468.2" x2="256.2" y2="469.5" stroke="#500000" stroke-opacity="0.09" stroke-width="1"/>
<line x1="134.8" y1="458.8" x2="182.3" y2="458.9" stroke="#500000" stroke-opacity="0.10" stroke-width="1"/>
<line x1="142.3" y1="451.9" x2="184.9" y2="450.6" stroke="#500000" stroke-opacity="0.14" stroke-width="1"/>
</g></g>
<pattern id="stB" width="20" height="3.1" patternUnits="userSpaceOnUse" patternTransform="rotate(-3)"><rect width="20" height="1.3" fill="#d00800" opacity="0.34"/></pattern>
<path d="M467.0,330.0 L469.5,335.0 L470.5,340.0 L470.8,345.0 L469.5,350.0 L467.9,355.0 L466.0,360.0 L464.6,365.0 L463.1,370.0 L461.9,375.0 L460.6,380.0 L459.0,385.0 L457.2,390.0 L455.4,395.0 L453.6,400.0 L451.6,405.0 L448.9,410.0 L446.3,415.0 L443.8,420.0 L441.3,425.0 L438.9,430.0 L436.5,435.0 L434.1,440.0 L431.5,445.0 L428.8,450.0 L426.0,455.0 L423.1,460.0 L420.3,465.0 L417.6,470.0 L414.4,475.0 L410.8,480.0 L407.2,485.0 L403.6,490.0 L400.1,495.0 L397.0,500.0 L393.9,505.0 L391.1,510.0 L388.3,515.0 L385.1,520.0 L381.9,525.0 L378.9,530.0 L375.9,535.0 L373.0,540.0 L624.1,540.0 L626.5,535.0 L628.9,530.0 L631.4,525.0 L634.2,520.0 L636.9,515.0 L639.2,510.0 L641.5,505.0 L644.0,500.0 L646.7,495.0 L649.7,490.0 L652.8,485.0 L655.9,480.0 L659.0,475.0 L661.6,470.0 L663.9,465.0 L666.2,460.0 L668.5,455.0 L670.9,450.0 L673.0,445.0 L675.2,440.0 L677.1,435.0 L678.9,430.0 L680.8,425.0 L682.8,420.0 L684.8,415.0 L687.0,410.0 L689.1,405.0 L690.6,400.0 L691.9,395.0 L693.2,390.0 L694.5,385.0 L695.7,380.0 L696.4,375.0 L697.2,370.0 L698.1,365.0 L699.0,360.0 L700.4,355.0 L701.5,350.0 L702.3,345.0 L701.5,340.0 L700.0,335.0 L697.0,330.0 Z" fill="url(#stB)"/>
<path d="M467.6,330.0 L469.2,335.0 L469.2,340.0 L468.7,345.0 L467.0,350.0 L464.1,355.0 L461.3,360.0 L458.6,365.0 L455.3,370.0 L451.2,375.0 L447.5,380.0 L444.1,385.0 L441.0,390.0 L438.2,395.0 L435.5,400.0 L431.5,405.0 L427.4,410.0 L422.4,415.0 L417.7,420.0 L413.5,425.0 L409.3,430.0 L405.0,435.0 L400.3,440.0 L395.5,445.0 L390.5,450.0 L385.6,455.0 L381.0,460.0 L376.3,465.0 L371.4,470.0 L366.4,475.0 L361.3,480.0 L356.3,485.0 L351.4,490.0 L346.4,495.0 L341.3,500.0 L334.8,505.0 L329.4,510.0 L324.3,515.0 L318.2,520.0 L311.9,525.0 L305.9,530.0 L299.9,535.0 L294.0,540.0 L367.0,540.0 L369.9,535.0 L372.9,530.0 L375.9,525.0 L379.1,520.0 L382.3,515.0 L385.1,510.0 L387.9,505.0 L391.0,500.0 L394.1,495.0 L397.6,490.0 L401.2,485.0 L404.8,480.0 L408.4,475.0 L411.6,470.0 L414.3,465.0 L417.1,460.0 L420.0,455.0 L422.8,450.0 L425.5,445.0 L428.1,440.0 L430.5,435.0 L432.9,430.0 L435.3,425.0 L437.8,420.0 L440.3,415.0 L442.9,410.0 L445.6,405.0 L447.6,400.0 L449.4,395.0 L451.2,390.0 L453.0,385.0 L454.6,380.0 L455.9,375.0 L457.1,370.0 L458.6,365.0 L460.0,360.0 L461.9,355.0 L463.5,350.0 L464.8,345.0 L464.5,340.0 L463.5,335.0 L461.0,330.0 Z" fill="url(#stB)" opacity="0.5"/>
<rect x="110" y="300" width="354" height="32" fill="url(#bTop)"/>
<rect x="110" y="300" width="354" height="32" fill="url(#bTopV)"/>
<path d="M436,300 L520,300 L520,336 L463,336 L463,329 C452,322 444,312 436,300 Z" fill="#ff2e04" filter="url(#b4)"/>
<path d="M105,300 L130,300 C136,308 142,311 150,313 C165,315.5 180,316.5 193,317.5 C215,318.8 245,318.8 266,318.5 C285,318.2 300,317 315,315.5 C330,314.3 345,313.8 356,314 C370,314.5 385,316 399,320 C410,322.5 420,324 426,325 C436,326.8 445,328 449,328.5 L463,330 L463,336 L105,336 Z" fill="#000" filter="url(#b2)"/>

</g>
<polygon points="114.6,332 400,330 462.6,328.6 276.2,386.2 114.6,388" fill="#808080" stroke="#000" stroke-width="1.2"/>
<g fill="none" stroke="#fff" stroke-width="4" stroke-dasharray="14 11.7">
<path d="M271.3,409.3 L356,375.6"/>
<path d="M420.3,377.5 C408,393 390,406 373,420.5 C350,437 322,454 297,466 C270,478 240,489 206,501.8 C180,511 150,518 118.5,523.3"/>
<path d="M464.3,330 C467.3,336 467.6,342 466,347.5 C464.5,351 462,353 459.7,355.6 C452,368 444,380 431.5,400 C418,416 403,434 382.3,454.3 C365,472 348,490 329.2,506.2 C318,517 308,525 299.5,532"/>
</g>
<g fill="none" stroke="#000" stroke-width="4" stroke-dasharray="14 11.7">
<path d="M464.5,330 C468,336 468.5,341 467.5,346 C466,353 463,365 460.3,369.4 C456,384 450,400 442.3,416.5 C432,438 420,460 405,484 C396,498 388,510 378,526.5"/>
</g>
<line x1="114.6" y1="306.3" x2="114.6" y2="532.5" stroke="#000" stroke-width="2"/>
<line x1="113.6" y1="531.5" x2="514.5" y2="531.5" stroke="#000" stroke-width="2.2"/>
<line x1="104.1" y1="531.50" x2="114.6" y2="531.50" stroke="#000" stroke-width="2"/>
<line x1="109.1" y1="518.22" x2="114.6" y2="518.22" stroke="#000" stroke-width="1"/>
<line x1="109.1" y1="504.94" x2="114.6" y2="504.94" stroke="#000" stroke-width="1"/>
<line x1="109.1" y1="491.66" x2="114.6" y2="491.66" stroke="#000" stroke-width="1"/>
<line x1="109.1" y1="478.38" x2="114.6" y2="478.38" stroke="#000" stroke-width="1"/>
<line x1="104.1" y1="465.10" x2="114.6" y2="465.10" stroke="#000" stroke-width="2"/>
<line x1="109.1" y1="451.82" x2="114.6" y2="451.82" stroke="#000" stroke-width="1"/>
<line x1="109.1" y1="438.54" x2="114.6" y2="438.54" stroke="#000" stroke-width="1"/>
<line x1="109.1" y1="425.26" x2="114.6" y2="425.26" stroke="#000" stroke-width="1"/>
<line x1="109.1" y1="411.98" x2="114.6" y2="411.98" stroke="#000" stroke-width="1"/>
<line x1="104.1" y1="398.70" x2="114.6" y2="398.70" stroke="#000" stroke-width="2"/>
<line x1="109.1" y1="385.42" x2="114.6" y2="385.42" stroke="#000" stroke-width="1"/>
<line x1="109.1" y1="372.14" x2="114.6" y2="372.14" stroke="#000" stroke-width="1"/>
<line x1="109.1" y1="358.86" x2="114.6" y2="358.86" stroke="#000" stroke-width="1"/>
<line x1="109.1" y1="345.58" x2="114.6" y2="345.58" stroke="#000" stroke-width="1"/>
<line x1="104.1" y1="332.30" x2="114.6" y2="332.30" stroke="#000" stroke-width="2"/>
<line x1="109.1" y1="319.02" x2="114.6" y2="319.02" stroke="#000" stroke-width="1"/>
<line x1="115.35" y1="531.5" x2="115.35" y2="538.0" stroke="#000" stroke-width="1"/>
<line x1="149.88" y1="531.5" x2="149.88" y2="538.0" stroke="#000" stroke-width="1"/>
<line x1="184.40" y1="531.5" x2="184.40" y2="543.0" stroke="#000" stroke-width="2"/>
<line x1="218.93" y1="531.5" x2="218.93" y2="538.0" stroke="#000" stroke-width="1"/>
<line x1="253.45" y1="531.5" x2="253.45" y2="538.0" stroke="#000" stroke-width="1"/>
<line x1="287.98" y1="531.5" x2="287.98" y2="538.0" stroke="#000" stroke-width="1"/>
<line x1="322.50" y1="531.5" x2="322.50" y2="543.0" stroke="#000" stroke-width="2"/>
<line x1="357.03" y1="531.5" x2="357.03" y2="538.0" stroke="#000" stroke-width="1"/>
<line x1="391.55" y1="531.5" x2="391.55" y2="538.0" stroke="#000" stroke-width="1"/>
<line x1="426.08" y1="531.5" x2="426.08" y2="538.0" stroke="#000" stroke-width="1"/>
<line x1="460.60" y1="531.5" x2="460.60" y2="543.0" stroke="#000" stroke-width="2"/>
<line x1="495.12" y1="531.5" x2="495.12" y2="538.0" stroke="#000" stroke-width="1"/>
<text x="98.6" y="341.90" text-anchor="end">0</text>
<text x="98.6" y="408.30" text-anchor="end">10</text>
<line x1="54.8" y1="400.10" x2="73" y2="400.10" stroke="#000" stroke-width="1.5"/>
<text x="98.6" y="474.70" text-anchor="end">20</text>
<line x1="54.8" y1="466.50" x2="73" y2="466.50" stroke="#000" stroke-width="1.5"/>
<text x="98.6" y="541.10" text-anchor="end">30</text>
<line x1="54.8" y1="532.90" x2="73" y2="532.90" stroke="#000" stroke-width="1.5"/>
<text x="184.40" y="568.9" text-anchor="middle">40</text>
<text x="322.50" y="568.9" text-anchor="middle">20</text>
<text x="460.60" y="568.9" text-anchor="middle">0</text>
<g class="L"><text x="3.4" y="320.7">(</text><text class="i" x="13.6" y="320.7">b</text><text x="29.2" y="320.7">)</text>
<text class="i" transform="translate(32.3,471.4) rotate(-90)">S</text>
<text transform="translate(31.7,446.5) rotate(-90)" style="letter-spacing:1.7px">(mm)</text>
<text class="i" x="265.5" y="604.7">x</text>
<text x="288.2" y="604.7" style="letter-spacing:1px">(mm)</text></g>
<!-- labels B -->
<rect x="182.6" y="411" width="36.6" height="27.6" fill="#b80000"/>
<text class="w lb" x="188" y="433.6">R1</text>
<rect x="150.5" y="466.2" width="35.8" height="27.6" fill="#c80000" opacity="0.6"/>
<text class="w lb" x="155.4" y="487.8">S2</text>
<rect x="279.3" y="482" width="30.4" height="26.4" fill="#ff3c10"/>
<text class="w lb" x="282.2" y="502.6">S1</text>
<g stroke="#fff" stroke-width="3.2" fill="none">
<line x1="223.3" y1="420.6" x2="252" y2="412.8"/>
<line x1="190.7" y1="484.5" x2="207" y2="490.4"/>
<line x1="316.1" y1="492.9" x2="328" y2="492.9" stroke-width="3.5"/>
</g>
<g fill="#fff">
<polygon points="262.2,410 249.8,408.2 252.5,418.4"/>
<polygon points="216.6,493.9 204.2,495 207.7,485.2"/>
<polygon points="336,492.9 327.2,488.6 327.2,497.2"/>
</g>
</svg>
</body></html>
